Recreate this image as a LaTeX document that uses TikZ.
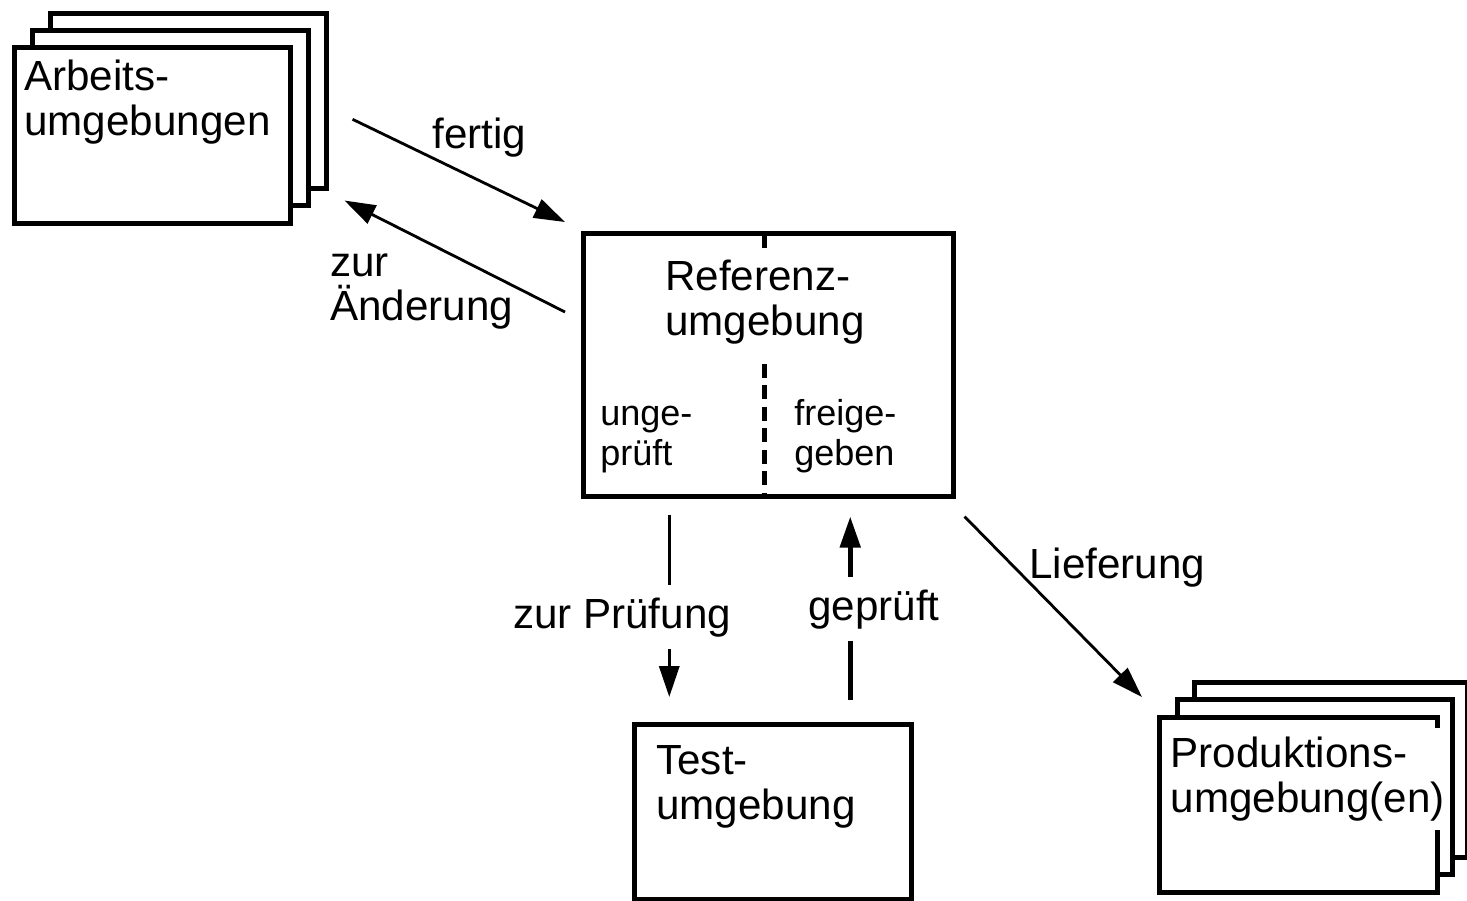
\documentclass[tikz,border=0pt]{standalone}
\usepackage{fontspec}
\setmainfont{Liberation Sans}
\usetikzlibrary{positioning, arrows.meta, calc}

\tikzset{
  env/.style={draw, line width=2.6pt, fill=white, anchor=north west, inner sep=0pt,
    minimum width=5.52cm, minimum height=3.5cm},
  envtext/.style={font=\fontsize{24}{25.5}\selectfont, align=left, inner sep=0pt, anchor=north west},
  subtext/.style={font=\fontsize{20.5}{22.8}\selectfont, align=left, inner sep=0pt, anchor=north west},
  flowlabel/.style={font=\fontsize{24}{25.5}\selectfont, inner sep=0pt},
  flow/.style={line width=1.6pt, -{Triangle[length=0.62cm, width=0.4cm]}},
}

\begin{document}
\begin{tikzpicture}[x=0.02cm, y=-0.02cm]
  \useasboundingbox (0,0) rectangle (1467,900);

  % Arbeitsumgebungen (stack of three)
  \node[env] (arb3) at (48,11) {};
  \node[env] (arb2) at (30,28) {};
  \node[env, minimum height=3.52cm] (arb1) at (12,45) {};
  \node[envtext] (arbT) at (24,60) {Arbeits-\\umgebungen};

  % Referenzumgebung with divider
  \node[env, minimum width=7.4cm, minimum height=5.26cm] (ref) at (581,231) {};
  \draw[line width=3pt] ([xshift=-0.08cm]ref.north) -- ++(0,17);
  \draw[line width=3pt, dash pattern=on 0.28cm off 0.15cm]
    ([xshift=-0.08cm, yshift=2.7cm]ref.south) -- ([xshift=-0.08cm]ref.south);
  \node[envtext] (refT) at (665,260) {Referenz-\\umgebung};
  \node[subtext] (unchecked) at (600,406) {unge-\\prüft};
  \node[subtext] (released) at (794,399) {freige-\\geben};

  % Testumgebung
  \node[env, minimum width=5.54cm] (test) at (632,722) {};
  \node[envtext] (testT) at (656,745) {Test-\\umgebung};

  % Produktionsumgebungen (stack of three)
  \node[env, minimum width=5.46cm] (prod3) at (1192,680) {};
  \node[env, minimum width=5.5cm] (prod2) at (1175,697) {};
  \node[env, minimum width=5.56cm] (prod1) at (1157,715) {};
  \node[envtext, fill=white, inner xsep=3pt, inner ysep=5pt] (prodT) at (1165,728) {Produktions-\\umgebung(en)};

  % fertig / zur Aenderung
  \draw[flow] ([shift={(24,18.5)}]arb3.east) -- ([shift={(-16,-9)}]ref.north west);
  \node[flowlabel, anchor=base west] (fertigL) at (432,148) {fertig};
  \draw[flow] ([shift={(-16,81)}]ref.north west) -- ([shift={(16,10)}]arb3.south east);
  \node[envtext] (aendL) at (330,253) {zur\\Änderung};

  % zur Pruefung / geprueft
  \coordinate (pruefX) at ([xshift=-1.98cm]ref.south);
  \coordinate (gepruefX) at ([xshift=1.64cm]ref.south);
  \draw[flow, line width=1.9pt, shorten <=0.32cm, shorten >=0.5cm] (pruefX) -- (pruefX |- test.north);
  \node[flowlabel, fill=white, inner ysep=7pt, anchor=base] (pruefL) at (622,628) {zur Prüfung};
  \draw[flow, line width=2.8pt, shorten <=0.44cm, shorten >=0.36cm] (gepruefX |- test.north) -- (gepruefX);
  \node[flowlabel, fill=white, inner ysep=7pt, anchor=base] (gepruefL) at (874,620) {geprüft};

  % Lieferung
  \draw[flow] ([shift={(9,18)}]ref.south east) -- ([shift={(-15,-18)}]prod1.north west);
  \node[flowlabel, anchor=base west] (liefL) at (1029,578) {Lieferung};
\end{tikzpicture}
\end{document}
